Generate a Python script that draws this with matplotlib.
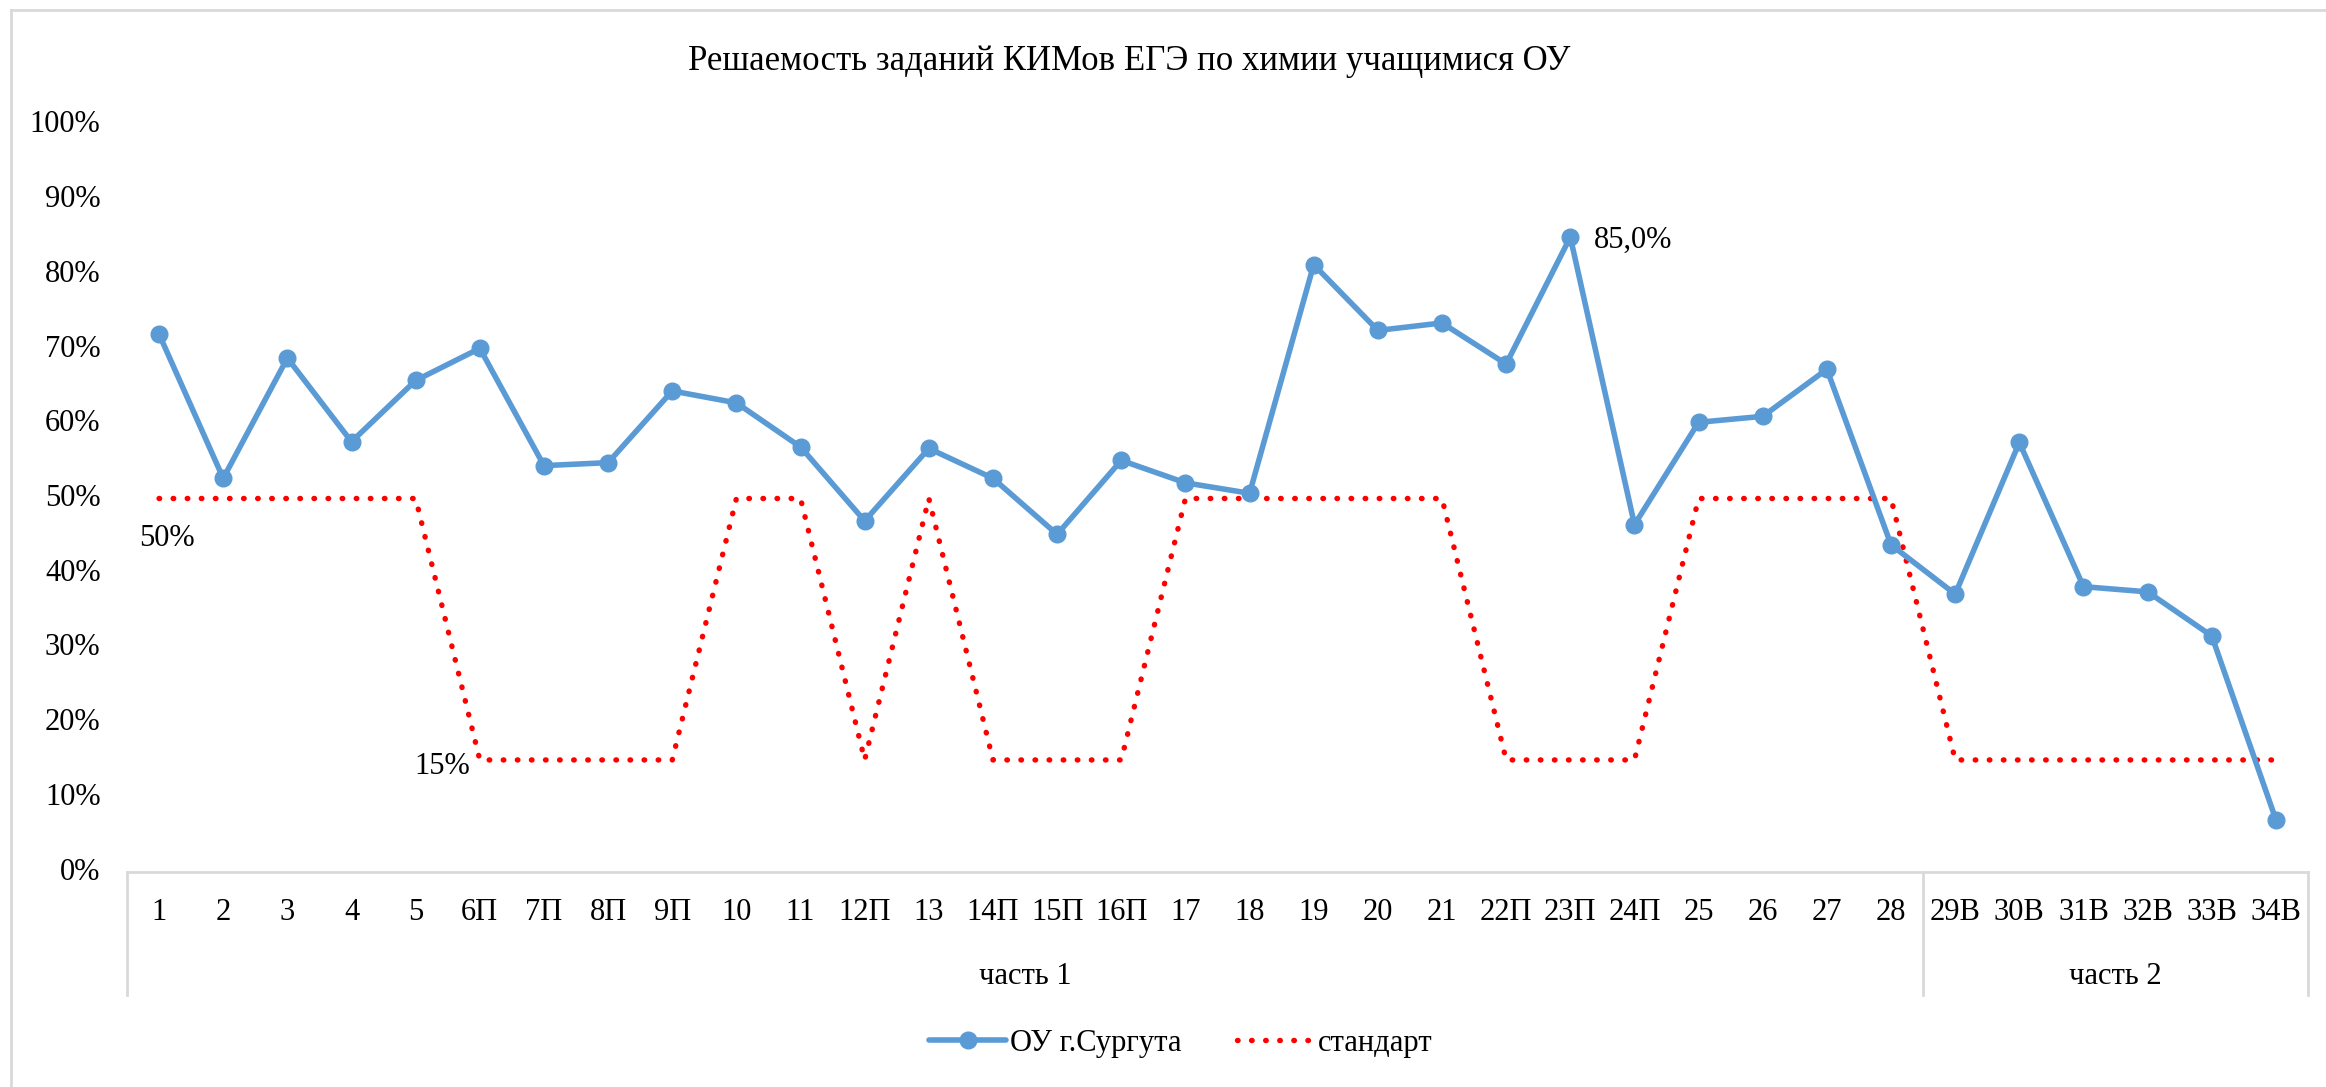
import matplotlib
matplotlib.use("Agg")
import matplotlib.pyplot as plt
from matplotlib.lines import Line2D

plt.rcParams['font.family'] = ['Liberation Serif', 'DejaVu Serif']

categories = ["1", "2", "3", "4", "5", "6П", "7П", "8П", "9П", "10", "11", "12П", "13",
              "14П", "15П", "16П", "17", "18", "19", "20", "21", "22П", "23П", "24П",
              "25", "26", "27", "28", "29В", "30В", "31В", "32В", "33В", "34В"]
ou_values = [72.0, 52.7, 68.8, 57.6, 65.8, 70.1, 54.4, 54.8, 64.4, 62.8, 56.9, 47.0, 56.7,
             52.7, 45.2, 55.1, 52.1, 50.7, 81.3, 72.5, 73.5, 68.0, 85.0, 46.5,
             60.2, 61.0, 67.3, 43.8, 37.2, 57.5, 38.2, 37.5, 31.6, 7.0]
standard = [50, 50, 50, 50, 50, 15, 15, 15, 15, 50, 50, 15, 50,
            15, 15, 15, 50, 50, 50, 50, 50, 15, 15, 15,
            50, 50, 50, 50, 15, 15, 15, 15, 15, 15]
groups = ["часть 1", "часть 2"]
group_sizes = [28, 6]
series_names = ["ОУ г.Сургута", "стандарт"]
title = "Решаемость заданий КИМов ЕГЭ по химии учащимися ОУ"

W, H = 2326, 1087
fig = plt.figure(figsize=(W / 100, H / 100), dpi=100)
ax = fig.add_axes([127 / W, 1 - 872 / H, (2308 - 127) / W, (872 - 125) / H])

x = list(range(len(categories)))
ou = [v / 100 for v in ou_values]
st = [v / 100 for v in standard]

blue = "#5B9BD5"
red = "#FF0000"
grey = "#D9D9D9"

ax.plot(x, ou, color=blue, lw=4.0, marker="o", ms=12, zorder=3,
        solid_joinstyle="round", solid_capstyle="round", label=series_names[0])
ax.plot(x, st, color=red, lw=3.9, linestyle=(0, (0.1, 2.5)), dash_capstyle="round",
        zorder=2, label=series_names[1])

ax.set_xlim(-0.5, len(categories) - 0.5)
ax.set_ylim(0, 1)
ax.set_yticks([i / 10 for i in range(11)])
ax.set_yticklabels([f"{i * 10}%" for i in range(11)], fontsize=22)
ax.set_xticks(x)
ax.set_xticklabels(categories, fontsize=22)
ax.tick_params(axis="y", length=0, pad=19)
ax.tick_params(axis="x", length=0, pad=29.5)
for lbl in ax.get_yticklabels():
    lbl.set_verticalalignment("center")
for lbl in ax.get_xticklabels():
    lbl.set_verticalalignment("center")

for s in ["top", "right", "left"]:
    ax.spines[s].set_visible(False)
ax.spines["bottom"].set_color(grey)
ax.spines["bottom"].set_linewidth(2)

# multi-level category axis
tr = ax.get_xaxis_transform()
low = -(995 - 872) / (872 - 125)
pos = -0.5
edges = [pos]
for g, n in zip(groups, group_sizes):
    center = pos + n / 2
    ax.text(center, -(976 - 872) / (872 - 125), g, transform=tr, ha="center", va="center",
            fontsize=22)
    pos += n
    edges.append(pos)
for e in edges:
    ax.plot([e, e], [0, low], transform=tr, color=grey, lw=2, clip_on=False)

# data labels
ax.annotate("50%", (0, st[0]), xytext=(8, -40), textcoords="offset pixels",
            ha="center", va="center", fontsize=22)
ax.annotate("15%", (5, st[5]), xytext=(-10, -7), textcoords="offset pixels",
            ha="right", va="center", fontsize=22)
imax = ou_values.index(max(ou_values))
ax.annotate(f"{ou_values[imax]:.1f}%".replace(".", ","), (imax, ou[imax]), xytext=(24, -3),
            textcoords="offset pixels", ha="left", va="center", fontsize=22)

fig.text(1129 / W, 1 - 61 / H, title, ha="center", va="center", fontsize=25)

fig.legend(loc="center", bbox_to_anchor=(1181 / W, 1 - 1043 / H), ncol=2, frameon=False,
           fontsize=22, handlelength=2.5, handletextpad=0.15, columnspacing=1.8)

# chart border
fig.add_artist(Line2D([11 / W, 1], [1 - 10 / H, 1 - 10 / H], transform=fig.transFigure,
                      color=grey, lw=2))
fig.add_artist(Line2D([11 / W, 11 / W], [1 - 10 / H, 0], transform=fig.transFigure,
                      color=grey, lw=2))

fig.savefig("out.png", dpi=100)
